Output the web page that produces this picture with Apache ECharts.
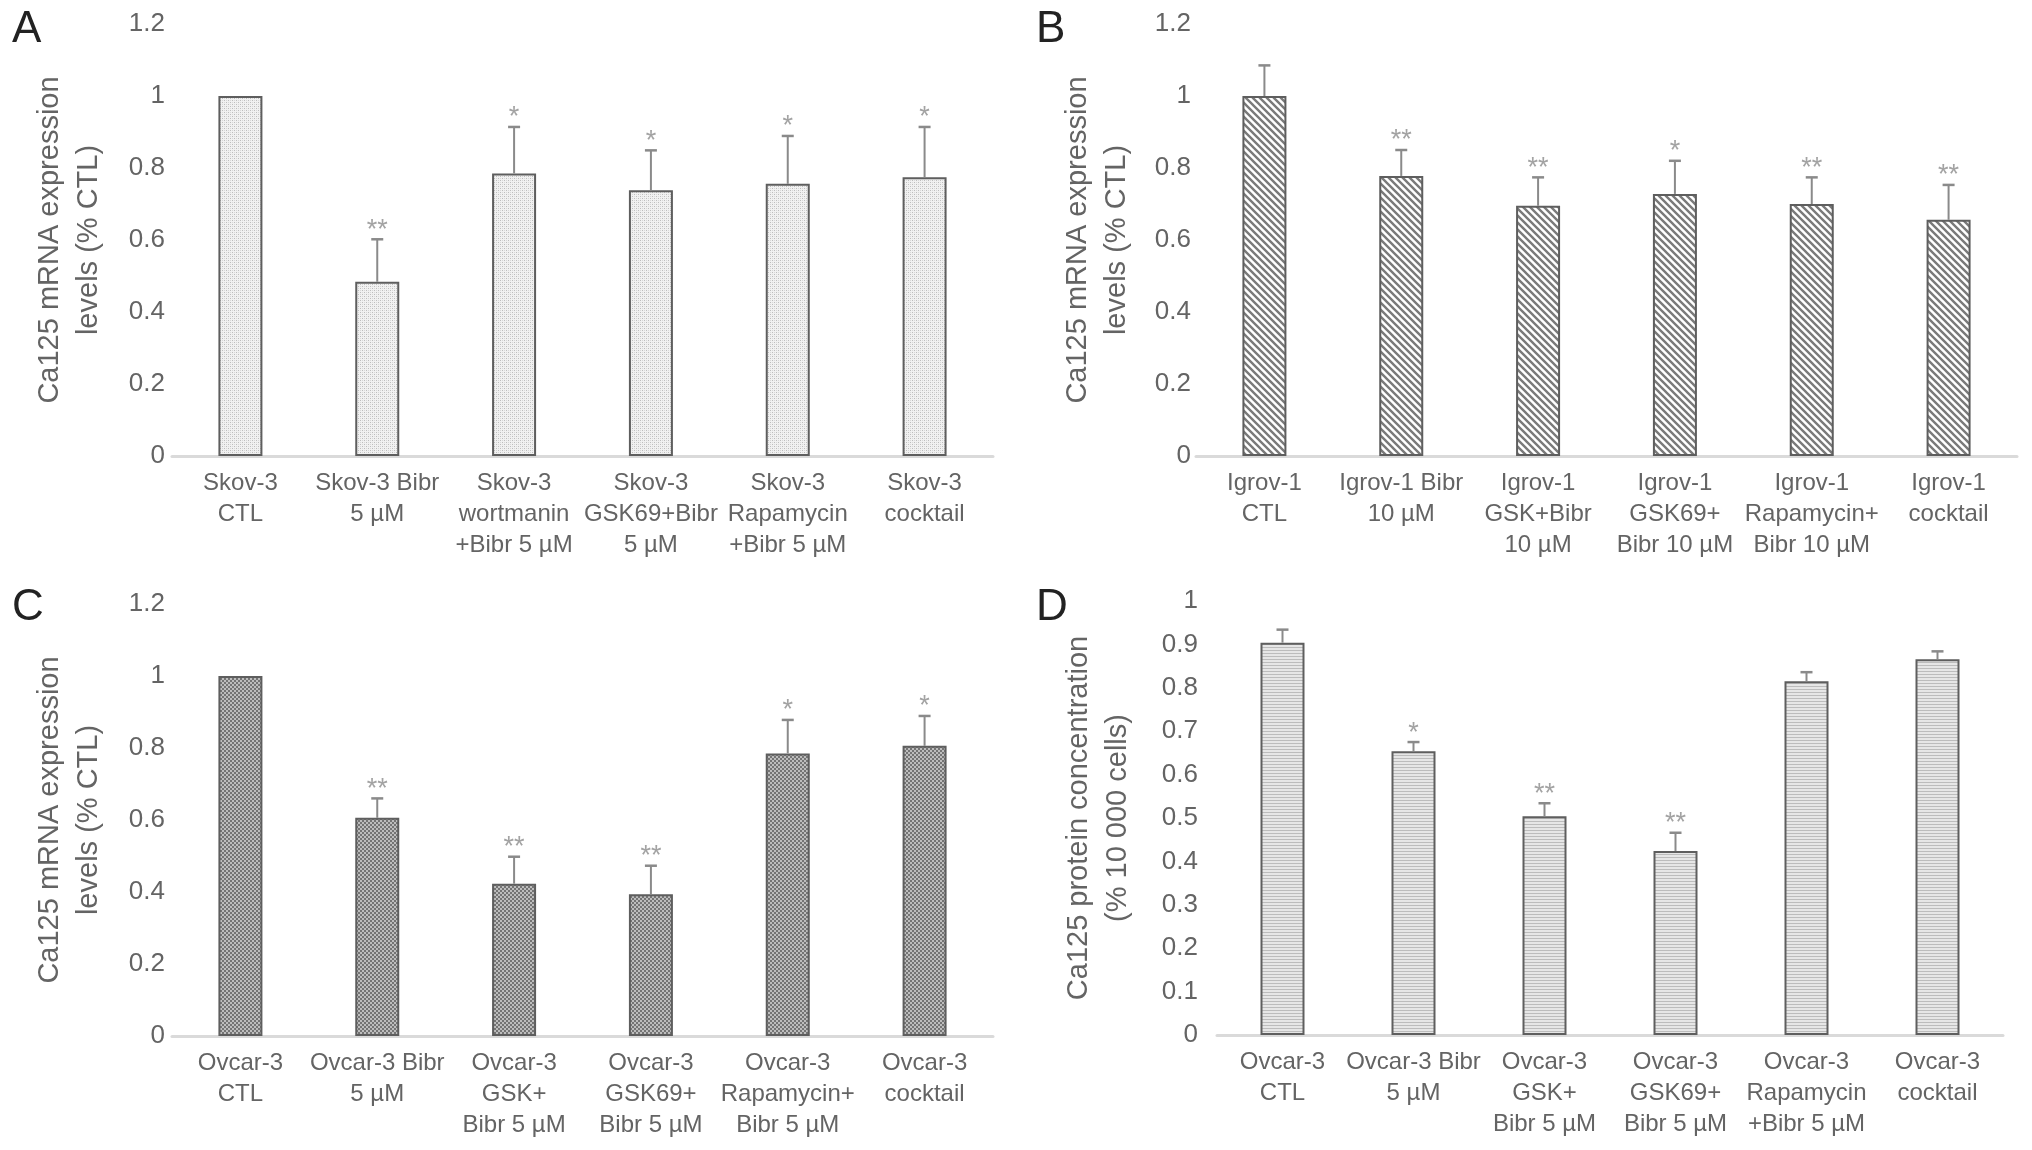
<!DOCTYPE html>
<html>
<head>
<meta charset="utf-8">
<script src="https://cdn.jsdelivr.net/npm/echarts@6/dist/echarts.min.js"></script>
<style>
html,body{margin:0;padding:0;background:#fff;}
#chart{width:2032px;height:1150px;}
</style>
</head>
<body>
<div id="chart"></div>
<script>
// ---------- data ----------
const catsA = ["Skov-3\nCTL", "Skov-3 Bibr\n5 µM", "Skov-3\nwortmanin\n+Bibr 5 µM", "Skov-3\nGSK69+Bibr\n5 µM", "Skov-3\nRapamycin\n+Bibr 5 µM", "Skov-3\ncocktail"];
const valsA = [1.0, 0.484, 0.785, 0.738, 0.756, 0.774];
const errA  = [0, 0.118, 0.129, 0.111, 0.133, 0.140];
const starsA = ["", "**", "*", "*", "*", "*"];

const catsB = ["Igrov-1\nCTL", "Igrov-1 Bibr\n10 µM", "Igrov-1\nGSK+Bibr\n10 µM", "Igrov-1\nGSK69+\nBibr 10 µM", "Igrov-1\nRapamycin+\nBibr 10 µM", "Igrov-1\ncocktail"];
const valsB = [1.0, 0.778, 0.695, 0.728, 0.700, 0.656];
const errB  = [0.085, 0.072, 0.079, 0.092, 0.074, 0.097];
const starsB = ["", "**", "**", "*", "**", "**"];

const catsC = ["Ovcar-3\nCTL", "Ovcar-3 Bibr\n5 µM", "Ovcar-3\nGSK+\nBibr 5 µM", "Ovcar-3\nGSK69+\nBibr 5 µM", "Ovcar-3\nRapamycin+\nBibr 5 µM", "Ovcar-3\ncocktail"];
const valsC = [1.0, 0.606, 0.423, 0.394, 0.785, 0.806];
const errC  = [0, 0.054, 0.075, 0.079, 0.093, 0.083];
const starsC = ["", "**", "**", "**", "*", "*"];

const catsD = ["Ovcar-3\nCTL", "Ovcar-3 Bibr\n5 µM", "Ovcar-3\nGSK+\nBibr 5 µM", "Ovcar-3\nGSK69+\nBibr 5 µM", "Ovcar-3\nRapamycin\n+Bibr 5 µM", "Ovcar-3\ncocktail"];
const valsD = [0.904, 0.654, 0.504, 0.424, 0.815, 0.866];
const errD  = [0.030, 0.021, 0.030, 0.042, 0.021, 0.018];
const starsD = ["", "*", "**", "**", "", ""];

const nameMRNA = "Ca125 mRNA expression\nlevels (% CTL)";
const nameProt = "Ca125 protein concentration\n(% 10 000 cells)";
const panelLetters = ["A", "B", "C", "D"];

// ---------- patterns ----------
function makePattern(size, draw) {
  const c = document.createElement('canvas');
  c.width = size; c.height = size;
  const ctx = c.getContext('2d');
  draw(ctx, size);
  return { image: c, repeat: 'repeat' };
}
const patA = makePattern(4, (ctx, s) => {
  ctx.fillStyle = '#f1f1f1'; ctx.fillRect(0, 0, s, s);
  ctx.fillStyle = '#bdbdbd';
  ctx.fillRect(0, 0, 1, 1); ctx.fillRect(2, 2, 1, 1);
  ctx.fillStyle = '#d8d8d8';
  ctx.fillRect(2, 0, 1, 1); ctx.fillRect(0, 2, 1, 1);
});
const patB = makePattern(7, (ctx, s) => {
  ctx.fillStyle = '#ffffff'; ctx.fillRect(0, 0, s, s);
  ctx.strokeStyle = '#7a7a7a'; ctx.lineWidth = 2.4;
  ctx.beginPath();
  ctx.moveTo(-1, -1); ctx.lineTo(s + 1, s + 1);
  ctx.moveTo(-1, s - 1); ctx.lineTo(1, s + 1);
  ctx.moveTo(s - 1, -1); ctx.lineTo(s + 1, 1);
  ctx.stroke();
});
const patC = makePattern(4, (ctx, s) => {
  ctx.fillStyle = '#747474'; ctx.fillRect(0, 0, s, s);
  ctx.fillStyle = '#bdbdbd';
  ctx.fillRect(0, 0, 2, 2); ctx.fillRect(2, 2, 2, 2);
});
const patD = makePattern(3, (ctx, s) => {
  ctx.fillStyle = '#e6e6e6'; ctx.fillRect(0, 0, s, s);
  ctx.fillStyle = '#bcbcbc'; ctx.fillRect(0, 2, s, 1);
});

// ---------- layout ----------
const FONT = 'Liberation Sans, Arial, Helvetica, sans-serif';
const TXT = '#646464';
const grids = [
  { left: 172,  top: 24,  width: 821, height: 432 },
  { left: 1196, top: 24,  width: 821, height: 432 },
  { left: 172,  top: 604, width: 821, height: 432 },
  { left: 1217, top: 601, width: 786, height: 434 }
];
const panels = [
  { cats: catsA, vals: valsA, err: errA, stars: starsA, pat: patA, name: nameMRNA, max: 1.2, step: 0.2, gap: 64, lblMargin: 7 },
  { cats: catsB, vals: valsB, err: errB, stars: starsB, pat: patB, name: nameMRNA, max: 1.2, step: 0.2, gap: 60, lblMargin: 5 },
  { cats: catsC, vals: valsC, err: errC, stars: starsC, pat: patC, name: nameMRNA, max: 1.2, step: 0.2, gap: 64, lblMargin: 7 },
  { cats: catsD, vals: valsD, err: errD, stars: starsD, pat: patD, name: nameProt, max: 1.0, step: 0.1, gap: 80, lblMargin: 19 }
];
const letterPos = [
  { left: 12, top: 8 }, { left: 1036, top: 8 }, { left: 12, top: 586 }, { left: 1036, top: 586 }
];

const xAxis = [], yAxis = [], series = [], title = [];
panels.forEach((p, i) => {
  xAxis.push({
    type: 'category', gridIndex: i, data: p.cats,
    axisLine: { show: true, lineStyle: { color: '#dadada', width: 3 } },
    axisTick: { show: false },
    axisLabel: { interval: 0, color: TXT, fontSize: 24, lineHeight: 31, fontFamily: FONT, margin: 12 }
  });
  yAxis.push({
    type: 'value', gridIndex: i, min: 0, max: p.max, interval: p.step,
    splitLine: { show: false }, axisLine: { show: false }, axisTick: { show: false },
    axisLabel: { color: TXT, fontSize: 26, fontFamily: FONT, margin: p.lblMargin,
      formatter: v => String(Math.round(v * 10) / 10) },
    name: p.name, nameLocation: 'middle', nameRotate: 90, nameGap: p.gap,
    nameMoveOverlap: false,
    nameTextStyle: { color: TXT, fontSize: 29, lineHeight: 39, fontFamily: FONT, align: 'center' }
  });
  series.push({
    type: 'bar', xAxisIndex: i, yAxisIndex: i, data: p.vals, barWidth: 44,
    itemStyle: { color: p.pat, borderColor: '#5e5e5e', borderWidth: 2 },
    silent: true
  });
  const errData = p.vals.map((v, k) => [k, v + p.err[k], v]);
  series.push({
    type: 'custom', xAxisIndex: i, yAxisIndex: i, data: errData, silent: true, z: 5,
    renderItem: (params, api) => {
      const k = params.dataIndex;
      if (!p.err[k]) return { type: 'group', children: [] };
      const top = api.coord([api.value(0), api.value(1)]);
      const base = api.coord([api.value(0), api.value(2)]);
      const children = [
        { type: 'line', shape: { x1: top[0], y1: base[1], x2: top[0], y2: top[1] }, style: { stroke: '#8a8a8a', lineWidth: 2 } },
        { type: 'line', shape: { x1: top[0] - 6, y1: top[1], x2: top[0] + 6, y2: top[1] }, style: { stroke: '#8a8a8a', lineWidth: 2.5 } }
      ];
      if (p.stars[k]) {
        children.push({ type: 'text', x: top[0], y: top[1] - 9,
          style: { text: p.stars[k], fill: '#a3a3a3', fontSize: 27, fontFamily: FONT, align: 'center', verticalAlign: 'middle' } });
      }
      return { type: 'group', children };
    }
  });
  title.push({ text: panelLetters[i], left: letterPos[i].left, top: letterPos[i].top, padding: 0,
    textStyle: { fontSize: 44, fontWeight: 'normal', color: '#222', fontFamily: FONT } });
});

const chart = echarts.init(document.getElementById('chart'), null, { renderer: 'canvas' });
chart.setOption({
  animation: false,
  backgroundColor: '#ffffff',
  title, grid: grids, xAxis, yAxis, series
});
</script>
</body>
</html>
